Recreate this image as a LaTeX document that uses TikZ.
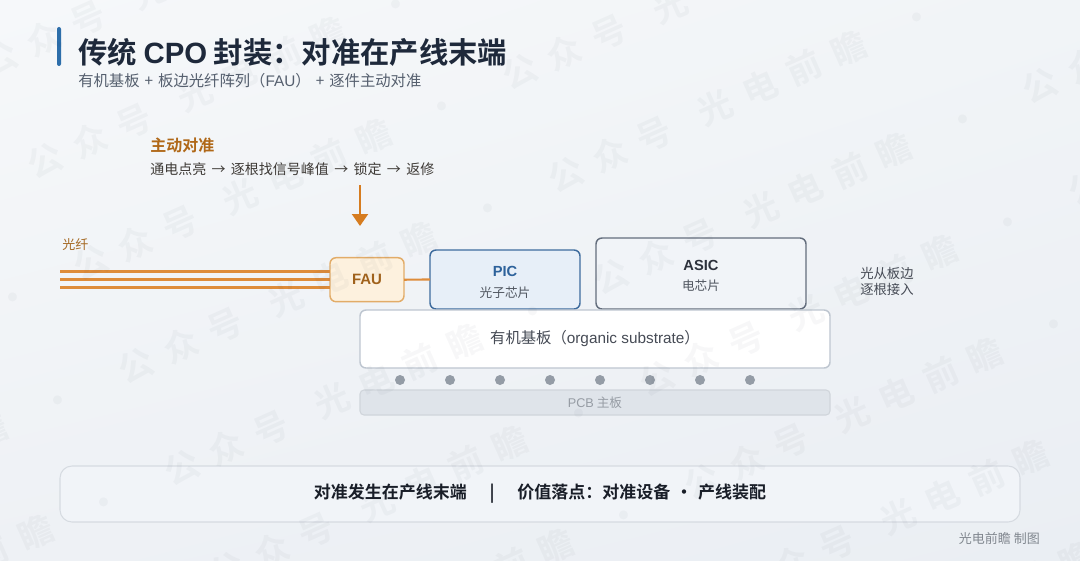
\documentclass[tikz,border=0pt]{standalone}
\usepackage{fontspec}
\setmainfont{Noto Sans CJK SC}[BoldFont={Noto Sans CJK SC Bold}]
\newfontfamily\lat{Liberation Sans}
\usetikzlibrary{arrows.meta,shadings}
\definecolor{bgA}{RGB}{246,248,250}
\definecolor{bgB}{RGB}{241,244,247}
\definecolor{bgC}{RGB}{238,241,245}
\definecolor{bgD}{RGB}{234,238,243}
\definecolor{titlec}{RGB}{30,41,59}
\definecolor{barc}{RGB}{45,110,170}
\definecolor{subc}{RGB}{85,95,110}
\definecolor{orangeT}{RGB}{176,104,24}
\definecolor{stepc}{RGB}{62,58,54}
\definecolor{arrowc}{RGB}{214,124,32}
\definecolor{fiberc}{RGB}{222,140,58}
\definecolor{fiberlbl}{RGB}{165,105,35}
\definecolor{faufill}{RGB}{253,241,222}
\definecolor{fauborder}{RGB}{226,172,104}
\definecolor{fautext}{RGB}{160,98,28}
\definecolor{picfill}{RGB}{231,239,248}
\definecolor{picborder}{RGB}{62,108,158}
\definecolor{pictext}{RGB}{45,98,155}
\definecolor{asicfill}{RGB}{241,244,248}
\definecolor{asicborder}{RGB}{100,110,125}
\definecolor{asictext}{RGB}{45,50,60}
\definecolor{chipsub}{RGB}{80,86,96}
\definecolor{subborder}{RGB}{190,198,208}
\definecolor{subtext}{RGB}{70,75,85}
\definecolor{ballc}{RGB}{148,156,166}
\definecolor{pcbfill}{RGB}{223,228,234}
\definecolor{pcbborder}{RGB}{208,213,219}
\definecolor{pcbtext}{RGB}{150,156,164}
\definecolor{botfill}{RGB}{241,244,248}
\definecolor{botborder}{RGB}{214,219,225}
\definecolor{bottext}{RGB}{25,30,40}
\definecolor{signc}{RGB}{130,136,144}
\definecolor{wmcol}{RGB}{40,50,70}
\newcommand\wmtile{公\hspace{10.5pt}众\hspace{10.5pt}号\hspace{24pt}光\hspace{10.5pt}电\hspace{10.5pt}前\hspace{10.5pt}瞻\hspace{30pt}·}
\begin{document}
\begin{tikzpicture}[x=0.75pt,y=-0.75pt,
  box/.style={draw, line width=1.1pt, rounded corners=4.5pt, inner sep=0pt, outer sep=0pt},
  fausty/.style={box, draw=fauborder, fill=faufill, minimum width=55.5pt, minimum height=33pt, text=fautext, font=\lat\fontsize{11.25}{13}\selectfont\bfseries},
  picsty/.style={box, draw=picborder, fill=picfill, minimum width=112.5pt, minimum height=44.25pt},
  asicsty/.style={box, draw=asicborder, fill=asicfill, minimum width=157.5pt, minimum height=53.25pt},
  substy/.style={box, draw=subborder, fill=white, minimum width=352.5pt, minimum height=43.5pt},
  pcbsty/.style={box, line width=0.8pt, rounded corners=3pt, draw=pcbborder, fill=pcbfill, minimum width=352.5pt, minimum height=18.75pt},
  botsty/.style={box, line width=0.8pt, rounded corners=9pt, draw=botborder, fill=botfill, minimum width=720pt, minimum height=42pt},
  chiptitle/.style={font=\lat\fontsize{11}{13}\selectfont\bfseries, inner sep=0pt},
  chipsubt/.style={font=\fontsize{9.5}{11}\selectfont, text=chipsub, inner sep=0pt},
  ball/.style={circle, fill=ballc, minimum size=7.5pt, inner sep=0pt},
  fiber/.style={draw=fiberc, line width=2.3pt},
  wm/.style={font=\fontsize{26}{26}\selectfont\bfseries, text=wmcol, text opacity=0.035, transform shape, inner sep=0pt, anchor=west}
]
\useasboundingbox (0,0) rectangle (1080,560);
\shade[upper left=bgA, upper right=bgB, lower left=bgC, lower right=bgD] (0,0) rectangle (1080,560);

% title
\fill[barc, rounded corners=1.5pt] (57,27) rectangle (61,66);
\node[anchor=west, inner sep=0pt, text=titlec, font=\fontsize{22}{25}\selectfont\bfseries] (title) at (78,52) {传统 {\lat CPO} 封装：对准在产线末端};
\node[anchor=west, inner sep=0pt, text=subc, font=\fontsize{11.5}{13}\selectfont] (subtitle) at (78,81) {有机基板\hspace{3.8pt}+\hspace{3.8pt}板边光纤阵列（{\lat FAU}）\hspace{3.8pt}+\hspace{3.8pt}逐件主动对准};

% active alignment
\node[anchor=west, inner sep=0pt, text=orangeT, font=\fontsize{12}{14}\selectfont\bfseries] (aa) at (150,145) {主动对准};
\node[anchor=west, inner sep=0pt, text=stepc, font=\fontsize{10.5}{13}\selectfont] (flow) at (150,169) {通电点亮\hspace{4pt}→\hspace{4pt}逐根找信号峰值\hspace{4pt}→\hspace{4pt}锁定\hspace{4pt}→\hspace{4pt}返修};
\coordinate (arrS) at (360,185);
\coordinate (arrE) at (360,226);
\draw[arrowc, line width=1.6pt, -{Triangle[width=12pt, length=9pt]}] (arrS) -- (arrE);

% fibers and FAU
\node[anchor=west, inner sep=0pt, text=fiberlbl, font=\fontsize{9.75}{12}\selectfont] (fl) at (62,245) {光纤};
\node[fausty] (fau) at (367,279.7) {FAU};
\coordinate (f1) at (60,271.7);
\coordinate (f2) at (60,279.7);
\coordinate (f3) at (60,287.7);
\draw[fiber] (f1) -- (f1 -| fau.west);
\draw[fiber] (f2) -- (f2 -| fau.west);
\draw[fiber] (f3) -- (f3 -| fau.west);

% chips
\node[picsty] (pic) at (505,279.5) {};
\node[chiptitle, text=pictext] (pict) at (505,271) {PIC};
\node[chipsubt] (pics) at (505,293) {光子芯片};
\draw[fiberc, line width=1.6pt] (fau.east) -- (pic.west);

\node[asicsty] (asic) at (701,273.5) {};
\node[chiptitle, text=asictext] (asict) at (701,265) {ASIC};
\node[chipsubt] (asics) at (701,286) {电芯片};

\node[align=left, anchor=west, inner sep=0pt, text=subtext, font=\fontsize{10}{12}\selectfont] (note) at (860,281) {光从板边\\逐根接入};

% substrate
\node[substy, text=subtext, font=\fontsize{11.5}{13}\selectfont] (sub) at (595,339) {有机基板（{\lat organic substrate}）};
\foreach \i in {0,...,7}{
  \node[ball] (b\i) at (400+50*\i,380) {};
}
\node[pcbsty, text=pcbtext, font=\fontsize{9.5}{11}\selectfont] (pcb) at (595,402.5) {{\lat PCB} 主板};

% bottom
\node[botsty, text=bottext, font=\fontsize{12.75}{15}\selectfont\bfseries] (bot) at (540,494) {对准发生在产线末端\hspace{17pt}|\hspace{17pt}价值落点：对准设备\hspace{4pt}·\hspace{4pt}产线装配};
\node[anchor=east, inner sep=0pt, text=signc, font=\fontsize{9.75}{12}\selectfont] (sign) at (1040,539) {光电前瞻 制图};

% watermark
\begin{scope}
\clip (0,0) rectangle (1080,560);
\begin{scope}[shift={(90,263)}, rotate=24]
\foreach \k in {-3,...,6}{
  \foreach \j in {-2,...,3}{
    \node[wm] at (\j*470-17,\k*112) {\wmtile};
  }
}
\end{scope}
\end{scope}
\end{tikzpicture}
\end{document}
